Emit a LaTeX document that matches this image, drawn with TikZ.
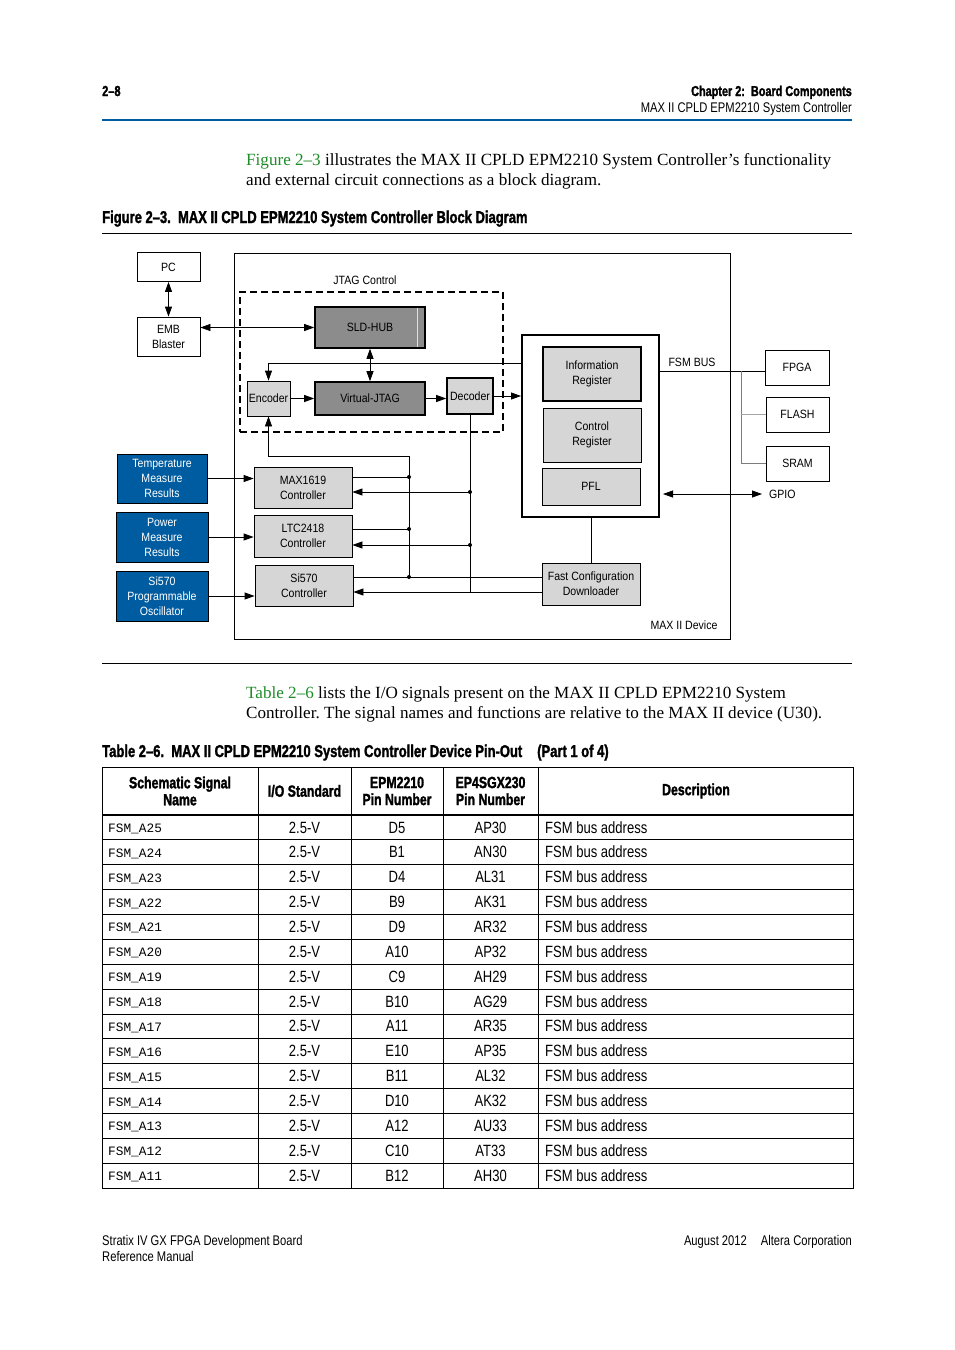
\documentclass[tikz,border=0pt]{standalone}
\usepackage{fontspec}
\setmainfont{Liberation Serif}
\newfontfamily\dfont[FakeStretch=0.88]{Liberation Sans}
\newfontfamily\cfont[FakeStretch=0.8]{Liberation Sans}
\newfontfamily\hfont[FakeStretch=0.76, BoldFeatures={FakeBold=1.6}]{Liberation Sans}
\newfontfamily\mfont{Liberation Mono}
\usetikzlibrary{arrows.meta}
\frenchspacing
\definecolor{altblue}{RGB}{0,92,160}
\definecolor{altgreen}{RGB}{30,140,40}
\definecolor{lightfill}{RGB}{214,214,214}
\definecolor{darkfill}{RGB}{140,140,140}
\definecolor{busgray}{RGB}{125,125,125}
\tikzset{
  wbox/.style={draw, line width=0.8pt, fill=white, align=center, inner sep=0pt,
    font=\dfont\fontsize{12}{15}\selectfont},
  lbox/.style={wbox, fill=lightfill},
  dbox/.style={wbox, fill=darkfill, line width=1.6pt},
  bbox/.style={wbox, fill=altblue, text=white},
  arr/.style={-{Triangle[length=10pt,width=7pt]}, line width=0.8pt},
  dbl/.style={{Triangle[length=10pt,width=7pt]}-{Triangle[length=10pt,width=7pt]}, line width=0.8pt},
  conn/.style={line width=0.8pt},
  jdot/.style={circle, fill=black, inner sep=0pt, minimum size=4pt},
  lbl/.style={font=\dfont\fontsize{12}{15}\selectfont, inner sep=0pt},
  ptext/.style={anchor=base west, inner sep=0pt, font=\fontsize{17.1}{20}\selectfont},
  capt/.style={anchor=base west, inner sep=0pt, font=\hfont\bfseries\fontsize{17.1}{18}\selectfont},
  small/.style={inner sep=0pt, font=\cfont\fontsize{14}{16}\selectfont},
  thead/.style={inner sep=0pt, align=center, font=\hfont\bfseries\fontsize{16.2}{17}\selectfont},
  tcell/.style={inner sep=0pt, anchor=base, font=\cfont\fontsize{16.3}{18}\selectfont},
  tmono/.style={inner sep=0pt, anchor=base west, font=\mfont\fontsize{12.8}{14}\selectfont},
  glint/.style={white!75!gray, line width=0.6pt},
}
\begin{document}
\begin{tikzpicture}[x=1pt,y=-1pt]
\useasboundingbox[fill=white] (0,0) rectangle (954,1350);

% ---------- page header ----------
\node[anchor=base west, inner sep=0pt, font=\hfont\bfseries\fontsize{14.5}{16}\selectfont] (pgno) at (102,96) {2–8};
\node[anchor=base east, inner sep=0pt, font=\hfont\bfseries\fontsize{14.3}{16}\selectfont] (chap) at (852,96) {Chapter 2:\ \ Board Components};
\node[anchor=base east, small] (sect) at (852,112) {MAX II CPLD EPM2210 System Controller};
\draw[altblue, line width=2pt] (102,120) -- (852,120);

% ---------- paragraph 1 ----------
\node[ptext] (p1a) at (246,165) {\textcolor{altgreen}{Figure 2–3} illustrates the MAX II CPLD EPM2210 System Controller's functionality};
\node[ptext] (p1b) at (246,185) {and external circuit connections as a block diagram.};

\node[capt] (figcap) at (102,223) {Figure 2–3.\ \ MAX II CPLD EPM2210 System Controller Block Diagram};
\draw[line width=0.6pt] (102,233) -- (852,233);

% ---------- diagram ----------
\node[wbox, minimum width=496, minimum height=386] (dev) at (482,446) {};
\node[wbox, minimum width=63, minimum height=29] (pc) at (168.5,267) {PC};
\node[wbox, minimum width=63, minimum height=39] (emb) at (168.5,336.5) {EMB\\Blaster};
\node[draw, dash pattern=on 7pt off 4pt, line width=2pt, minimum width=263, minimum height=140, inner sep=0pt] (jtag) at (371.5,362) {};
\node[lbl] (jtaglbl) at (365,280) {JTAG Control};
\node[dbox, minimum width=110, minimum height=41] (sld) at (370,327.5) {SLD-HUB};
\node[dbox, minimum width=110, minimum height=33] (vjtag) at (370,398.5) {Virtual-JTAG};
\node[lbox, minimum width=43, minimum height=35] (enc) at (268.5,398.5) {Encoder};
\node[lbox, line width=1.6pt, minimum width=46, minimum height=36] (dec) at (470,396) {Decoder};
\draw[glint] ([xshift=-9pt,yshift=-1.5pt]sld.north east) -- ([xshift=-9pt,yshift=1.5pt]sld.south east);

\node[wbox, line width=2pt, minimum width=137, minimum height=182] (inner) at (590.5,426) {};
\node[lbox, line width=1.6pt, minimum width=98, minimum height=54] (info) at (592,374) {Information\\Register};
\node[lbox, minimum width=98, minimum height=54] (ctrl) at (592,435) {Control\\Register};
\node[lbox, minimum width=98, minimum height=37] (pfl) at (591,486.5) {PFL};

\node[wbox, minimum width=64, minimum height=35] (fpga) at (797,367.5) {FPGA};
\node[wbox, minimum width=63, minimum height=35] (flash) at (797.5,414.5) {FLASH};
\node[wbox, minimum width=63, minimum height=35] (sram) at (797.5,463.5) {SRAM};
\node[lbl] (fsmlbl) at (692,362) {FSM BUS};
\node[lbl, anchor=west] (gpio) at (769,494) {GPIO};

\node[bbox, minimum width=90, minimum height=49] (temp) at (162,478.5) {Temperature\\Measure\\Results};
\node[bbox, minimum width=92, minimum height=50] (power) at (162,537) {Power\\Measure\\Results};
\node[bbox, minimum width=92, minimum height=50] (osc) at (162,596) {Si570\\Programmable\\Oscillator};

\node[lbox, minimum width=98, minimum height=41] (max) at (303,487.5) {MAX1619\\Controller};
\node[lbox, minimum width=98, minimum height=42] (ltc) at (303,536) {LTC2418\\Controller};
\node[lbox, minimum width=98, minimum height=41] (si) at (304,585.5) {Si570\\Controller};
\node[lbox, minimum width=98, minimum height=42] (fcd) at (591,584) {Fast Configuration\\Downloader};
\node[lbl] (devlbl) at (684,625) {MAX II Device};

% connectors
\draw[dbl] (pc.south) -- (emb.north);
\draw[dbl] (emb.east |- sld.west) -- (sld.west);
\draw[dbl] (sld.south) -- (vjtag.north);
\coordinate (encT) at (268.5,363);
\draw[arr] (inner.west |- encT) -| (enc.north);
\draw[arr] (enc.east) -- (enc.east -| vjtag.west);
\draw[arr] (vjtag.east) -- (vjtag.east -| dec.west);
\draw[arr] (dec.east) -- (dec.east -| inner.west);

\coordinate (lp1) at (268.5,456);
\coordinate (lp2) at (409,456);
\coordinate (lpA) at (409,477);
\coordinate (lpB) at (409,529);
\coordinate (lpC) at (409,577);
\draw[arr] (lpC) -- (lp2) -- (lp1) -- (enc.south);
\draw[conn] (max.east |- lpA) -- (lpA);
\draw[conn] (ltc.east |- lpB) -- (lpB);
\draw[conn] (si.east |- lpC) -- (fcd.west |- lpC);
\node[jdot] (dotA) at (lpA) {};
\node[jdot] (dotB) at (lpB) {};
\node[jdot] (dotC) at (lpC) {};

\coordinate (dA) at (470,492);
\coordinate (dB) at (470,545);
\coordinate (dC) at (470,592);
\draw[conn] (dec.south) -- (dC) -- (fcd.west |- dC);
\draw[arr] (dC) -- (dC -| si.east);
\draw[arr] (dA) -- (dA -| max.east);
\draw[arr] (dB) -- (dB -| ltc.east);
\node[jdot] (dotD) at (dA) {};
\node[jdot] (dotE) at (dB) {};

\draw[arr] (temp.east) -- (temp.east -| max.west);
\draw[arr] (power.east) -- (power.east -| ltc.west);
\draw[arr] (osc.east) -- (osc.east -| si.west);
\draw[conn] (fcd.north) -- (fcd.north |- inner.south);

\coordinate (fb) at (741,371);
\draw[conn] (inner.east |- fb) -- (fpga.west |- fb);
\draw[conn, busgray] (fb) |- (sram.west);
\draw[conn, busgray!70] (fb |- flash.west) -- (flash.west);
\draw[dbl, shorten <=3pt, shorten >=7pt] (inner.east |- gpio.west) -- (gpio.west);

\draw[line width=0.6pt] (102,663) -- (852,663);

% ---------- paragraph 2 ----------
\node[ptext] (p2a) at (246,698) {\textcolor{altgreen}{Table 2–6} lists the I/O signals present on the MAX II CPLD EPM2210 System};
\node[ptext] (p2b) at (246,718) {Controller. The signal names and functions are relative to the MAX II device (U30).};
\node[capt] (tabcap) at (102,757) {Table 2–6.\ \ MAX II CPLD EPM2210 System Controller Device Pin-Out};
\node[capt] (tabpart) at (537,757) {(Part 1 of 4)};

% ---------- table ----------
\draw[line width=0.8pt] (102,767) rectangle (853,1188);
\draw[line width=1.2pt] (102,815) -- (853,815);
\foreach \cx [count=\k] in {258,351,443,538}
  \draw[line width=0.8pt] (\cx,767) -- (\cx,1188);
\foreach \i in {1,...,14}
  \draw[line width=0.8pt] (102,{815+\i*24.87}) -- (853,{815+\i*24.87});

\node[thead] (h1) at (180,791) {Schematic Signal\\Name};
\node[thead] (h2) at (304.5,791) {I/O Standard};
\node[thead] (h3) at (397,791) {EPM2210\\Pin Number};
\node[thead] (h4) at (490.5,791) {EP4SGX230\\Pin Number};
\node[thead] (h5) at (696,791) {Description};

\foreach \n/\p/\q [count=\i] in {A25/D5/AP30, A24/B1/AN30, A23/D4/AL31, A22/B9/AK31, A21/D9/AR32,
   A20/A10/AP32, A19/C9/AH29, A18/B10/AG29, A17/A11/AR35, A16/E10/AP35, A15/B11/AL32,
   A14/D10/AK32, A13/A12/AU33, A12/C10/AT33, A11/B12/AH30} {
  \node[tmono] (sig\i) at (108,{827.5+(\i-1)*24.87+5}) {FSM\_\n};
  \node[tcell] (std\i) at (304.5,{827.5+(\i-1)*24.87+5.5}) {2.5-V};
  \node[tcell] (pa\i) at (397,{827.5+(\i-1)*24.87+5.5}) {\p};
  \node[tcell] (pb\i) at (490.5,{827.5+(\i-1)*24.87+5.5}) {\q};
  \node[tcell, anchor=base west] (ds\i) at (545,{827.5+(\i-1)*24.87+5.5}) {FSM bus address};
}

% ---------- footer ----------
\node[small, anchor=base west] (f1) at (102,1245) {Stratix IV GX FPGA Development Board};
\node[small, anchor=base west] (f2) at (102,1261) {Reference Manual};
\node[small, anchor=base east] (f3) at (852,1245) {August 2012\quad Altera Corporation};
\end{tikzpicture}
\end{document}
